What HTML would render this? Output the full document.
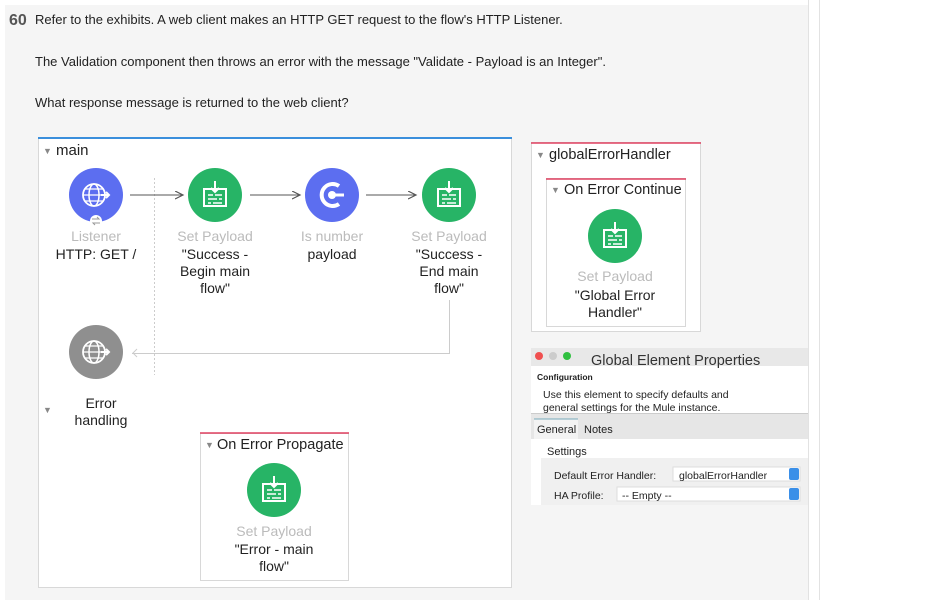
<!DOCTYPE html>
<html><head><meta charset="utf-8"><style>
body{margin:0;width:926px;height:600px;overflow:hidden;background:#fff;font-family:"Liberation Sans",Arial,sans-serif}
svg{position:absolute;left:0;top:0}
</style></head><body>
<svg width="926" height="600" viewBox="0 0 926 600" font-family="Liberation Sans, Arial, sans-serif">
<defs>
<g id="sp">
<circle r="27" fill="#27b466"/>
<rect x="-11" y="-6" width="22" height="17" fill="none" stroke="#fff" stroke-width="2"/>
<path d="M0-14V-3M-4-7L0-3L4-7" stroke="#fff" stroke-width="2" fill="none"/>
<path d="M-7 0h5M0 0h7M-7 4h9M4 4h3M-7 8h3M-2 8h9" stroke="#fff" stroke-width="1.6"/>
</g>
<g id="gl">
<circle cx="-2" r="11" fill="none" stroke="#fff" stroke-width="1.8"/>
<ellipse cx="-2" rx="5" ry="11" fill="none" stroke="#fff" stroke-width="1.5"/>
<path d="M-13 0h22M-11-6h18M-11 6h18" stroke="#fff" stroke-width="1.3"/>
<path d="M5 0h8M10-3l3 3-3 3" stroke="#fff" stroke-width="2" fill="none"/>
</g>
<marker id="ar" markerWidth="10" markerHeight="10" refX="8" refY="4" orient="auto"><path d="M0 0L8 4L0 8" fill="none" stroke="#555" stroke-width="1.2"/></marker>
</defs>
<rect x="5" y="5" width="803" height="595" fill="#f5f5f5"/>
<line x1="808.5" y1="0" x2="808.5" y2="600" stroke="#e2e2e2"/>
<line x1="819.5" y1="0" x2="819.5" y2="600" stroke="#e2e2e2"/>
<text x="9" y="25" font-size="16" font-weight="bold" fill="#555">60</text>
<text x="35" y="24" font-size="13" fill="#222">Refer to the exhibits. A web client makes an HTTP GET request to the flow's HTTP Listener.</text>
<text x="35" y="66" font-size="13" fill="#222">The Validation component then throws an error with the message "Validate - Payload is an Integer".</text>
<text x="35" y="107" font-size="13" fill="#222">What response message is returned to the web client?</text>

<!-- main flow -->
<rect x="38.5" y="137.5" width="473" height="450" fill="#fff" stroke="#d8d8d8"/>
<line x1="38" y1="138" x2="512" y2="138" stroke="#3a8fdc" stroke-width="2"/>
<text x="43" y="154" font-size="9" fill="#888">▼</text>
<text x="56" y="155" font-size="15" fill="#222">main</text>
<line x1="154.5" y1="178" x2="154.5" y2="375" stroke="#ccc" stroke-dasharray="2,2"/>
<circle cx="96" cy="195" r="27" fill="#5c6ef0"/>
<use href="#gl" x="96" y="195"/>
<circle cx="96" cy="221" r="6" fill="#fff"/>
<path d="M92 219h7l-2-2M100 223h-7l2 2" stroke="#999" stroke-width="1" fill="none"/>
<line x1="130" y1="195" x2="183" y2="195" stroke="#555" marker-end="url(#ar)"/>
<use href="#sp" x="215" y="195"/>
<line x1="250" y1="195" x2="300" y2="195" stroke="#555" marker-end="url(#ar)"/>
<circle cx="332" cy="195" r="27" fill="#5c6ef0"/>
<path d="M339 186a11 11 0 1 0 0 18" fill="none" stroke="#fff" stroke-width="4"/>
<circle cx="332" cy="195" r="4" fill="#fff"/><line x1="332" y1="195" x2="344" y2="195" stroke="#fff" stroke-width="3"/>
<line x1="366" y1="195" x2="416" y2="195" stroke="#555" marker-end="url(#ar)"/>
<use href="#sp" x="449" y="195"/>
<g font-size="14" text-anchor="middle" fill="#222">
<text x="96" y="241" fill="#bbb">Listener</text>
<text x="96" y="259">HTTP: GET /</text>
<text x="215" y="241" fill="#bbb">Set Payload</text>
<text x="215" y="259">"Success -</text><text x="215" y="276">Begin main</text><text x="215" y="293">flow"</text>
<text x="332" y="241" fill="#bbb">Is number</text>
<text x="332" y="259">payload</text>
<text x="449" y="241" fill="#bbb">Set Payload</text>
<text x="449" y="259">"Success -</text><text x="449" y="276">End main</text><text x="449" y="293">flow"</text>
</g>
<path d="M449.5 300V353.5H132" fill="none" stroke="#ccc"/>
<path d="M137 349l-4 4 4 4" fill="none" stroke="#ccc"/>
<circle cx="96" cy="352" r="27" fill="#8f8f8f"/>
<use href="#gl" x="96" y="352"/>
<text x="43" y="413" font-size="9" fill="#888">▼</text>
<text x="101" y="408" font-size="14" text-anchor="middle" fill="#222">Error</text>
<text x="101" y="425" font-size="14" text-anchor="middle" fill="#222">handling</text>
<rect x="200.5" y="433.5" width="148" height="147" fill="#fff" stroke="#d8d8d8"/>
<line x1="200" y1="433" x2="349" y2="433" stroke="#e04060" stroke-width="1.5"/>
<text x="205" y="448" font-size="9" fill="#888">▼</text>
<text x="217" y="449" font-size="14.5" fill="#222">On Error Propagate</text>
<use href="#sp" x="274" y="490"/>
<g font-size="14" text-anchor="middle" fill="#222">
<text x="274" y="536" fill="#bbb">Set Payload</text>
<text x="274" y="554">"Error - main</text><text x="274" y="571">flow"</text>
</g>

<!-- global handler -->
<rect x="531.5" y="142.5" width="169" height="189" fill="#fff" stroke="#d8d8d8"/>
<line x1="531" y1="143" x2="701" y2="143" stroke="#e04060" stroke-width="1.5"/>
<text x="536" y="158" font-size="9" fill="#888">▼</text>
<text x="549" y="159" font-size="14.5" fill="#222">globalErrorHandler</text>
<rect x="546.5" y="178.5" width="139" height="148" fill="#fff" stroke="#d8d8d8"/>
<line x1="546" y1="179" x2="686" y2="179" stroke="#e04060" stroke-width="1.5"/>
<text x="551" y="193" font-size="9" fill="#888">▼</text>
<text x="564" y="194" font-size="14.5" fill="#222">On Error Continue</text>
<use href="#sp" x="615" y="236"/>
<g font-size="14" text-anchor="middle" fill="#222">
<text x="615" y="281" fill="#bbb">Set Payload</text>
<text x="615" y="300">"Global Error</text><text x="615" y="317">Handler"</text>
</g>

<!-- global element properties -->
<rect x="531" y="348" width="277" height="157" fill="#fff"/>
<rect x="531" y="348" width="277" height="18" fill="#e8e8e8"/>
<circle cx="539" cy="356" r="4" fill="#f05050"/><circle cx="553" cy="356" r="4" fill="#ccc"/><circle cx="567" cy="356" r="4" fill="#30c040"/>
<text x="591" y="365" font-size="14.5" fill="#333">Global Element Properties</text>
<text x="537" y="380" font-size="8.5" font-weight="bold" fill="#222">Configuration</text>
<text x="543" y="398" font-size="10.5" fill="#222">Use this element to specify defaults and</text>
<text x="543" y="411" font-size="10.5" fill="#222">general settings for the Mule instance.</text>
<line x1="531" y1="413.5" x2="808" y2="413.5" stroke="#ccc"/>
<rect x="531" y="414" width="277" height="25" fill="#e6e6e6"/>
<rect x="534" y="419" width="44" height="20" fill="#f3f3f3"/>
<line x1="534" y1="419" x2="578" y2="419" stroke="#7ab" />
<text x="537" y="433" font-size="11" fill="#222">General</text>
<text x="584" y="433" font-size="11" fill="#222">Notes</text>
<rect x="541" y="458" width="267" height="47" fill="#f0f0f0"/>
<text x="547" y="455" font-size="11" fill="#222">Settings</text>
<text x="554" y="479" font-size="10.5" fill="#222">Default Error Handler:</text>
<rect x="673" y="467" width="127" height="14" fill="#fff" stroke="#ddd"/>
<text x="679" y="479" font-size="10.5" fill="#222">globalErrorHandler</text>
<rect x="789" y="468" width="10" height="12" rx="2" fill="#3a8fe8"/>
<text x="554" y="499" font-size="10.5" fill="#222">HA Profile:</text>
<rect x="617" y="487" width="183" height="14" fill="#fff" stroke="#ddd"/>
<text x="622" y="499" font-size="10.5" fill="#222">-- Empty --</text>
<rect x="789" y="488" width="10" height="12" rx="2" fill="#3a8fe8"/>
</svg>
</body></html>
